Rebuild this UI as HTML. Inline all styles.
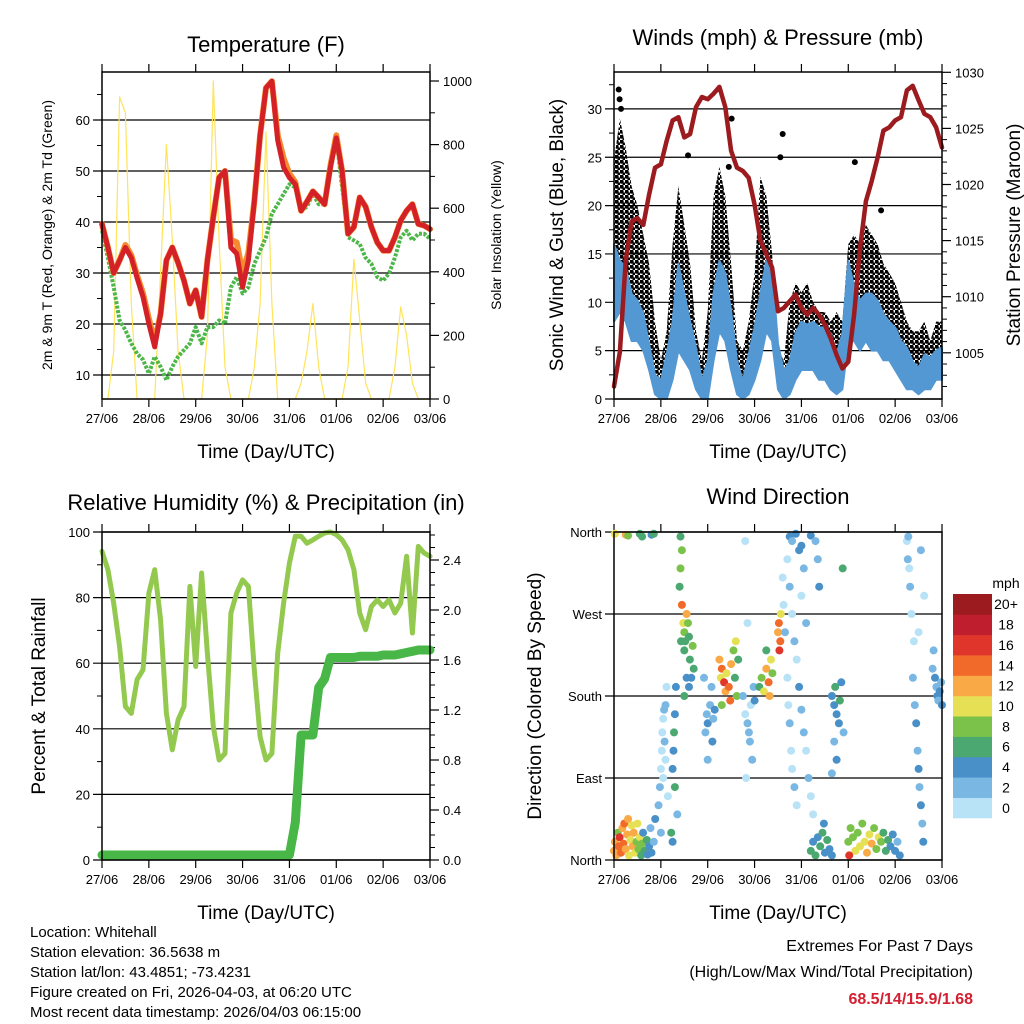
<!DOCTYPE html>
<html><head><meta charset="utf-8"><style>
html,body{margin:0;padding:0;background:#fff}
svg{display:block;font-family:"Liberation Sans",Arial,sans-serif}
</style></head><body>
<svg id="c" width="1024" height="1024" viewBox="0 0 1024 1024" xmlns="http://www.w3.org/2000/svg">
<defs>
<pattern id="dots" width="5" height="5" patternUnits="userSpaceOnUse">
<circle cx="1.5" cy="1.5" r="2.2" fill="#000"/>
<circle cx="4" cy="4" r="1.6" fill="#000"/>
</pattern>
</defs>
<rect x="0" y="0" width="1024" height="1024" fill="#fff"/>
<g id="layer"></g>
<text x="266" y="52" font-size="22" text-anchor="middle">Temperature (F)</text>
<text x="778" y="45" font-size="22" text-anchor="middle">Winds (mph) &amp; Pressure (mb)</text>
<text x="266" y="510" font-size="22" text-anchor="middle">Relative Humidity (%) &amp; Precipitation (in)</text>
<text x="778" y="504" font-size="22" text-anchor="middle">Wind Direction</text>
<text transform="translate(52,235) rotate(-90)" font-size="14" text-anchor="middle">2m &amp; 9m T (Red, Orange) &amp; 2m Td (Green)</text>
<text transform="translate(501,235) rotate(-90)" font-size="14" text-anchor="middle">Solar Insolation (Yellow)</text>
<text transform="translate(563,235) rotate(-90)" font-size="19" text-anchor="middle">Sonic Wind &amp; Gust (Blue, Black)</text>
<text transform="translate(1020,235) rotate(-90)" font-size="19" text-anchor="middle">Station Pressure (Maroon)</text>
<text transform="translate(45,696) rotate(-90)" font-size="19" text-anchor="middle">Percent &amp; Total Rainfall</text>
<text transform="translate(541,696) rotate(-90)" font-size="19" text-anchor="middle">Direction (Colored By Speed)</text>
<text x="266" y="458" font-size="19" text-anchor="middle">Time (Day/UTC)</text>
<text x="778" y="458" font-size="19" text-anchor="middle">Time (Day/UTC)</text>
<text x="266" y="919" font-size="19" text-anchor="middle">Time (Day/UTC)</text>
<text x="778" y="919" font-size="19" text-anchor="middle">Time (Day/UTC)</text>
<text x="1006" y="588" font-size="14" text-anchor="middle">mph</text>
<g font-size="15">
<text x="30" y="937">Location: Whitehall</text>
<text x="30" y="957">Station elevation: 36.5638 m</text>
<text x="30" y="977">Station lat/lon: 43.4851; -73.4231</text>
<text x="30" y="997">Figure created on Fri, 2026-04-03, at 06:20 UTC</text>
<text x="30" y="1017">Most recent data timestamp: 2026/04/03 06:15:00</text>
</g>
<text x="973" y="951" font-size="16" text-anchor="end">Extremes For Past 7 Days</text>
<text x="973" y="977" font-size="16" text-anchor="end">(High/Low/Max Wind/Total Precipitation)</text>
<text x="973" y="1004" font-size="16" font-weight="bold" fill="#d42030" text-anchor="end">68.5/14/15.9/1.68</text>
</svg>
<script>
const dayLabels=["27/06","28/06","29/06","30/06","31/06","01/06","02/06","03/06"];
const tempRed=[39.6,35,30,32.5,35,33,29,25.3,20,15.5,22,32.5,35,32,28.5,24,26.6,21.4,32.5,41,48.7,50,35,33.8,27.2,32.5,44,57,66.3,67.6,56,50.7,48.7,47.4,42.2,44,46,44.8,43.5,50.7,56.5,50,37.7,39,44.8,43,39,36,34.4,34.4,37,40.3,42.2,43.5,39.6,39.3,38.6];
const tempOrange=[39.6,35,30,32.5,35.5,33.5,29.5,26,21,16.5,22,32.5,35,32,28.5,24,26.6,21.4,32.5,41,48.7,50,36.5,36,30,34,44,57,66.3,67.6,57,52.5,49.5,47.8,42.2,44,46,44.8,43.5,51,57,50,37.7,39,44.8,43,39,36,34.4,34.4,37,40.3,42.2,43.5,39.6,39.3,38.6];
const dewGreen=[38.3,33,27.2,20.7,18.8,16.2,14.2,13,10.3,13.6,11.6,9,11.6,13.6,14.9,16.2,19.4,16.2,19.4,19.4,20.7,20,27.2,29.2,26,27.2,31.8,34.4,37,41.6,43.5,45.5,47.4,46.8,42.2,43,45.5,43.5,43.5,52,56.5,46.8,37,36.4,35.7,33,31.8,29.2,28.5,29.9,33,37,38.3,36.4,37.7,37.7,36.7];
const solar=[0,0,150,950,900,300,0,0,0,0,400,800,500,150,0,0,0,0,200,1000,500,100,0,0,0,0,100,300,840,300,0,0,0,0,50,150,300,100,0,0,0,0,100,440,250,50,0,0,0,0,100,290,200,50,0,0,0];
const pressure=[1002,1005.1,1013.2,1016.7,1017,1016.4,1019.1,1021.5,1021.8,1023.9,1025.7,1026,1024.2,1024.5,1026.9,1027.8,1027.6,1028.1,1028.7,1026.9,1023,1021.5,1021.2,1020.6,1018.2,1015,1013.8,1012.6,1008.7,1009,1009.6,1010.2,1009,1008.4,1009,1008.4,1007.5,1006.3,1004.8,1003.6,1004.2,1008.4,1014.3,1018.5,1020.3,1022.4,1024.8,1025.1,1025.7,1026,1028.4,1028.8,1027.5,1026.3,1026,1025.1,1023.3];
const windHi=[16,14.3,13.6,10.9,10.2,8.8,5.7,2.5,1.9,4.6,8,14,10.9,8,5.3,1.9,3.9,10.9,14.3,13,9.1,3.9,1.9,4.6,7.4,10.9,14.3,13.6,5.7,2.9,3.9,6.8,8,7.7,8,7.4,7.4,6.8,4.6,6.8,14.3,11.6,10.2,10.9,10.9,10.2,8.8,8,7.4,6,5.3,3.9,3.2,4.6,4.3,5,5.3];
const windLo=[8,9,8,6,6,5,3,0.5,0,0,2,5,4,3,1,0,0,4,7,6,3,0.5,0,0.5,2,4,7,6,1,0,0.5,2,3,3,3,2,2,1,0.5,1,6,6,5,6,5,5,4,4,3,2,1,1,0.5,1,1,2,2];
const gustHi=[24.7,29,26,22,20,17,14,8,4,7,16,22,18,14,7,4,9,21,24,21,14,6,5,8,13,23,21,15,5,4,10,12,11,12,10,9,9,8,9,8,16,17,16,18,17,16,14,13,12,10,8,7,7,8,6,8,8];
const gustOutDay=[0.1,0.12,0.15,1.58,2.51,2.45,3.6,3.55,5.14,5.7];
const gustOutVal=[32,31,30,25.2,29,24,27.4,25,24.5,19.5];
const rh=[94.1,88.5,78.3,65,46.8,44.7,55,58,81.4,88.5,73.2,44.7,33.6,42.7,46.8,83.4,59,87.5,63,40.7,30.5,32.5,75.3,81.4,85.4,83.4,58,37.6,30.5,32.5,63,78.3,90.5,98.7,98.7,96.6,97.6,98.7,99.7,100,99.2,97.6,94.6,88.5,75.3,70.2,77.3,79.3,77.3,79.3,75.3,78.3,92.6,69.2,95.6,93.6,92.6];
const precip=[0.04,0.04,0.04,0.04,0.04,0.04,0.04,0.04,0.04,0.04,0.04,0.04,0.04,0.04,0.04,0.04,0.04,0.04,0.04,0.04,0.04,0.04,0.04,0.04,0.04,0.04,0.04,0.04,0.04,0.04,0.04,0.04,0.04,0.3,1.0,1.0,1.0,1.38,1.45,1.62,1.62,1.62,1.62,1.62,1.63,1.63,1.63,1.63,1.64,1.64,1.64,1.65,1.66,1.67,1.68,1.68,1.68];
const dirDay=[0.02,0.25,0.3,0.55,0.6,0.8,0.85,
0,0.02,0.05,0.08,0.1,0.12,0.15,0.18,0.2,0.22,0.25,0.28,0.3,0.32,0.35,0.38,0.4,0.42,0.45,0.48,0.5,0.52,0.55,0.58,0.6,0.62,0.65,0.7,0.72,0.75,0.78,0.8,0.85,0.88,
0.95,0.98,1.0,1.02,1.03,1.05,1.07,1.0,1.1,1.12,1.08,1.15,1.05,1.1,
1.25,1.27,1.28,1.3,1.3,1.32,1.35,1.22,1.25,
1.4,1.42,1.45,1.48,1.5,1.52,1.5,1.55,1.58,1.6,1.62,1.65,1.6,1.68,1.7,1.45,1.42,1.55,1.5,1.43,
1.95,1.98,2.0,2.05,2.08,2.1,2.12,2.15,2.0,1.92,
2.25,2.28,2.3,2.35,2.38,2.4,2.45,2.48,2.5,2.55,2.58,2.6,2.62,2.3,2.65,
2.75,2.8,2.85,2.88,2.9,2.92,2.95,2.98,3.0,2.82,2.85,2.8,
3.1,3.15,3.2,3.25,3.3,3.35,3.32,3.38,3.25,
3.5,3.52,3.55,3.56,3.53,
3.6,3.62,3.65,3.7,3.72,3.75,3.78,3.8,3.85,3.9,3.95,4.0,4.05,4.1,4.15,4.2,4.25,3.7,3.75,3.8,3.85,3.9,4.0,4.1,
3.75,3.8,3.88,3.95,4.0,4.05,4.2,4.3,4.35,4.38,
4.2,4.25,4.3,4.35,4.4,4.45,4.5,4.55,4.6,4.65,4.48,
4.65,4.7,4.72,4.75,4.8,4.82,4.85,4.9,4.7,4.75,4.65,4.88,
5.0,5.05,5.1,5.15,5.2,5.25,5.3,5.35,5.4,5.45,5.5,5.55,5.6,5.65,5.7,5.75,5.8,5.85,5.9,5.95,6.0,6.05,6.1,5.02,
6.25,6.27,6.3,6.32,6.35,6.4,6.38,6.42,6.45,6.48,6.5,6.52,6.55,6.58,6.6,6.55,6.62,6.28,6.5,
6.85,6.88,6.9,6.92,6.95,6.98,7.0,6.8,6.82];
const dirDeg=[358,357,356,358,355,357,358,
10,20,5,30,15,25,8,35,18,40,12,28,45,5,22,38,15,30,8,20,40,12,25,5,18,30,10,22,6,15,35,8,20,45,
60,80,100,120,140,155,165,30,170,190,130,70,90,110,
100,120,140,160,80,190,50,30,20,
300,320,280,260,250,240,230,270,260,245,220,200,190,235,210,340,355,200,180,240,
140,160,150,170,190,130,155,165,110,200,
220,200,210,195,185,205,190,175,215,230,200,240,180,170,220,
180,160,150,140,130,170,110,190,175,90,260,350,
190,200,185,210,195,220,180,205,230,
250,260,240,270,230,
310,280,250,200,170,150,120,100,80,60,190,165,140,120,90,70,50,330,300,270,240,220,290,260,
355,350,358,340,345,320,356,350,330,300,
10,20,5,25,15,30,8,22,12,5,40,
180,170,190,160,150,175,195,140,130,110,95,320,
20,35,25,10,30,15,40,20,8,28,18,35,12,25,20,30,10,22,15,28,10,20,5,5,
350,330,320,300,270,240,200,170,150,120,100,80,60,40,20,340,290,355,250,
200,190,180,175,185,195,170,210,230];
const dirSpd=[10,12,8,6,7,4,6,
12,13,12,8,14,16,14,12,14,15,13,12,12,10,11,10,12,13,10,9,10,8,10,6,8,4,7,6,4,5,3,4,3,4,
2,2,0,1,0,1,2,2,2,0,2,1,1,0,
4,4,6,4,6,4,3,6,4,
6,8,14,10,8,7,6,12,8,7,6,5,4,9,6,8,6,4,6,7,
2,3,4,3,2,4,3,4,2,2,
12,10,14,16,12,10,14,15,12,8,6,10,8,8,6,
2,1,2,3,2,1,2,3,4,1,1,1,
6,8,10,12,14,10,12,8,7,
12,14,15,10,16,
0,1,2,1,0,2,1,0,2,1,4,3,2,1,2,1,0,1,2,0,2,1,1,2,
4,3,4,5,4,3,4,3,2,4,
6,4,6,5,7,6,4,6,5,4,4,
4,5,6,4,5,6,4,3,3,4,3,7,
8,8,9,10,8,10,9,11,12,10,12,8,9,10,8,7,6,7,5,4,4,3,4,16,
1,2,1,2,0,1,2,3,4,3,4,2,4,3,4,2,1,2,1,
4,3,4,3,4,3,4,2,2];
const speedLabels=["0","2","4","6","8","10","12","14","16","18","20+"];
const speedColors=["#b8e2f6","#7ab8e3","#4a90c8","#4aa870","#7bc24b","#e6e055","#f9a945","#f26a29","#e0352a","#be1e2d","#9b1b1f"];
const dirLabels=["North","East","South","West","North"];

const NS="http://www.w3.org/2000/svg";
const layer=document.getElementById('layer');
function mk(tag,attrs,parent){const e=document.createElementNS(NS,tag);for(const k in attrs)e.setAttribute(k,attrs[k]);(parent||layer).appendChild(e);return e;}
function txt(x,y,s,size,anchor,parent){const t=mk('text',{x:x,y:y,'font-size':size,'text-anchor':anchor},parent);t.textContent=s;return t;}

const P1={x0:102,x1:430,y0:72,y1:399};
const P2={x0:614,x1:942,y0:72,y1:399};
const P3={x0:102,x1:430,y0:532,y1:860};
const P4={x0:614,x1:942,y0:532,y1:860};
function xs(P){return d=>P.x0+d*(P.x1-P.x0)/7;}
const tY=v=>375-(v-10)*5.1;
const sY=v=>399-v*0.318;
const wY=v=>399-v*9.67;
const pY=v=>72.3+(1030-v)*11.22;
const rY=v=>860-v*3.28;
const cY=v=>860-v*125;
const dY=v=>860-v*(328/360);

function axes(P,name,leftTicks,leftFn,leftLabels,rightTicks,rightFn,rightLabels,minL,minR){
  const g=mk('g',{});
  
  
  const X=xs(P);
  leftTicks.forEach((v,i)=>{const y=leftFn(v);
    const l=mk('line',{x1:P.x0-9,x2:P.x1,y1:y,y2:y,stroke:'#000','stroke-width':1.2},g);
    
    
    const t=txt(P.x0-12,y+5,leftLabels[i],13,'end',g);
    
    
  });
  minL.forEach(v=>{const y=leftFn(v);mk('line',{x1:P.x0-5,x2:P.x0,y1:y,y2:y,stroke:'#000','stroke-width':1},g);});
  if(rightTicks){rightTicks.forEach((v,i)=>{const y=rightFn(v);
    mk('line',{x1:P.x1,x2:P.x1+9,y1:y,y2:y,stroke:'#000','stroke-width':1.2},g);
    const t=txt(P.x1+13,y+5,rightLabels[i],13,'start',g);
    
    
  });
  minR.forEach(v=>{const y=rightFn(v);mk('line',{x1:P.x1,x2:P.x1+5,y1:y,y2:y,stroke:'#000','stroke-width':1},g);});}
  dayLabels.forEach((s,i)=>{const x=X(i);
    mk('line',{x1:x,x2:x,y1:P.y0-8,y2:P.y0,stroke:'#000','stroke-width':1.2},g);
    mk('line',{x1:x,x2:x,y1:P.y1,y2:P.y1+8,stroke:'#000','stroke-width':1.2},g);
    const t=txt(x,P.y1+24,s,13,'middle',g);
    
    
  });
  return g;
}
function frame(P,name){const r=mk('rect',{x:P.x0,y:P.y0,width:P.x1-P.x0,height:P.y1-P.y0,fill:'none',stroke:'#000','stroke-width':1.5});
  
  }
function line(P,arr,fy,attrs,name){const X=xs(P);const pts=arr.map((v,i)=>X(i*7/(arr.length-1)).toFixed(1)+','+fy(v).toFixed(1)).join(' ');
  const a=Object.assign({points:pts,fill:'none','stroke-linejoin':'round','stroke-linecap':'round'},attrs);
  const e=mk('polyline',a);
  
  
  return e;}
function band(P,hi,lo,fy,fill,stroke,name){const X=xs(P);const n=hi.length;let pts=[];
  for(let i=0;i<n;i++)pts.push(X(i*7/(n-1)).toFixed(1)+','+fy(hi[i]).toFixed(1));
  for(let i=n-1;i>=0;i--)pts.push(X(i*7/(n-1)).toFixed(1)+','+fy(lo[i]).toFixed(1));
  const e=mk('polygon',{points:pts.join(' '),fill:fill,stroke:stroke,'stroke-width':2,'stroke-linejoin':'round'});
  
  
  return e;}

// Panel 1
axes(P1,'temperature',[10,20,30,40,50,60],tY,["10","20","30","40","50","60"],[0,200,400,600,800,1000],sY,["0","200","400","600","800","1000"],[15,25,35,45,55,65],[100,300,500,700,900]);
line(P1,solar,sY,{stroke:'#ffe35a','stroke-width':1.2},'solar-insolation-line');
line(P1,dewGreen,tY,{stroke:'#4cb648','stroke-width':4,'stroke-dasharray':'3 1.5','stroke-linecap':'butt'},'dewpoint-line');
line(P1,tempOrange,tY,{stroke:'#f58a2e','stroke-width':6},'temp-9m-line');
line(P1,tempRed,tY,{stroke:'#d42027','stroke-width':5},'temp-2m-line');
frame(P1,'temperature');

// Panel 2
axes(P2,'winds',[0,5,10,15,20,25,30],wY,["0","5","10","15","20","25","30"],[1005,1010,1015,1020,1025,1030],pY,["1005","1010","1015","1020","1025","1030"],[2.5,7.5,12.5,17.5,22.5,27.5,32.5],[1002,1003,1004,1006,1007,1008,1009,1011,1012,1013,1014,1016,1017,1018,1019,1021,1022,1023,1024,1026,1027,1028,1029]);
band(P2,gustHi,windLo,wY,'url(#dots)','none','gust-band');
(function(){const X=xs(P2);gustOutDay.forEach((d,i)=>{const c=mk('circle',{cx:X(d),cy:wY(gustOutVal[i]),r:3,fill:'#000'});
  
  });})();
band(P2,windHi,windLo,wY,'#5398d2','#5398d2','wind-band');
line(P2,pressure,pY,{stroke:'#9b1b1f','stroke-width':4.5},'pressure-line');
frame(P2,'winds');

// Panel 3
axes(P3,'humidity',[0,20,40,60,80,100],rY,["0","20","40","60","80","100"],[0,0.4,0.8,1.2,1.6,2.0,2.4],cY,["0.0","0.4","0.8","1.2","1.6","2.0","2.4"],[10,30,50,70,90],[0.1,0.2,0.3,0.5,0.6,0.7,0.9,1.0,1.1,1.3,1.4,1.5,1.7,1.8,1.9,2.1,2.2,2.3,2.5,2.6]);
line(P3,rh,rY,{stroke:'#93c94f','stroke-width':5},'relative-humidity-line');
line(P3,precip,cY,{stroke:'#48b747','stroke-width':9},'precipitation-line');
frame(P3,'humidity');

// Panel 4
axes(P4,'direction',[0,90,180,270,360],dY,dirLabels,null,null,null,[],[]);
(function(){const X=xs(P4);dirDay.forEach((d,i)=>{const s=dirSpd[i];const k=Math.min(10,Math.floor(s/2));
  const c=mk('circle',{cx:X(d).toFixed(1),cy:dY(dirDeg[i]).toFixed(1),r:4,fill:speedColors[k]});
  
  });})();
frame(P4,'direction');
// colorbar
(function(){const g=mk('g',{});
  
  
  const h=224/11;
  speedColors.forEach((col,i)=>{const y=818-(i+1)*h;
    const r=mk('rect',{x:953,y:y.toFixed(1),width:39,height:(h+0.3).toFixed(1),fill:col},g);
    
    
    const t=txt(1006,(y+h/2+5).toFixed(1),speedLabels[i],14,'middle',g);
    
    });})();
</script>
</body></html>
